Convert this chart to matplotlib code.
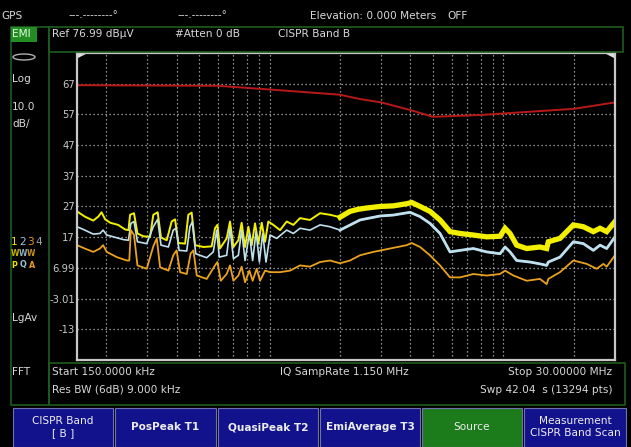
import numpy as np
import matplotlib.pyplot as plt
from matplotlib.patches import Rectangle, Polygon, Ellipse

# ---------------------------------------------------------
# Trace data (MHz, dBuV)
# ---------------------------------------------------------
peak_f = [0.150, 0.162, 0.176, 0.185, 0.191, 0.198, 0.208, 0.225, 0.241, 0.249,
          0.253, 0.263, 0.272, 0.288, 0.308, 0.318, 0.332, 0.343, 0.363, 0.381,
          0.394, 0.407, 0.435, 0.449, 0.464, 0.480, 0.521, 0.565, 0.584, 0.598,
          0.613, 0.655, 0.677, 0.700, 0.735, 0.759, 0.785, 0.811, 0.838, 0.866,
          0.895, 0.925, 0.956, 0.987, 1.037, 1.108, 1.183, 1.263, 1.349, 1.488,
          1.643, 1.812, 2.000, 2.207, 2.396, 2.601, 2.966, 3.381, 3.857, 4.051,
          4.398, 4.851, 5.355, 5.909, 6.520, 7.436, 8.478, 9.667, 10.16, 10.67,
          11.39, 12.57, 14.33, 15.31, 15.56, 17.45, 19.91, 21.97, 24.24, 25.89,
          27.64, 30.0]
peak_db = [25.4, 23.7, 22.4, 23.7, 25.1, 22.8, 21.7, 21.0, 19.5, 19.3,
           24.3, 24.8, 18.2, 17.3, 17.1, 24.3, 25.1, 16.9, 16.0, 22.1,
           22.8, 15.1, 14.9, 24.3, 25.0, 14.4, 13.8, 14.0, 19.9, 21.0,
           13.3, 16.6, 22.1, 13.8, 16.0, 21.7, 13.8, 20.4, 14.4, 21.5,
           14.9, 21.7, 15.5, 22.1, 21.0, 19.3, 22.1, 21.0, 23.2, 22.6,
           24.8, 24.3, 23.5, 25.4, 26.1, 26.5, 27.0, 27.2, 27.9, 28.3,
           27.0, 25.4, 22.6, 18.8, 18.2, 17.7, 17.1, 17.3, 19.9, 18.2,
           14.4, 13.3, 13.8, 13.3, 15.5, 16.6, 21.0, 20.4, 18.8, 19.9,
           18.8, 22.1]

qp_f = [0.150, 0.162, 0.176, 0.188, 0.194, 0.201, 0.215, 0.237, 0.249, 0.255,
        0.263, 0.272, 0.298, 0.318, 0.332, 0.343, 0.369, 0.387, 0.398, 0.410,
        0.442, 0.456, 0.467, 0.483, 0.538, 0.574, 0.594, 0.609, 0.655, 0.677,
        0.700, 0.735, 0.759, 0.785, 0.819, 0.846, 0.875, 0.904, 0.934, 0.965,
        1.004, 1.072, 1.183, 1.263, 1.349, 1.488, 1.643, 1.812, 2.000, 2.136,
        2.435, 2.966, 3.381, 3.985, 4.398, 4.851, 5.355, 5.909, 6.520, 7.436,
        8.478, 9.667, 10.16, 10.67, 11.39, 12.99, 14.33, 15.31, 15.56, 17.45,
        19.91, 21.97, 24.24, 25.89, 27.64, 30.0]
qp_db = [20.4, 19.3, 18.0, 18.2, 19.3, 17.7, 17.1, 16.2, 16.0, 21.5,
         22.1, 15.5, 14.9, 20.4, 22.8, 14.4, 13.8, 19.3, 19.9, 12.7,
         12.5, 20.4, 22.0, 11.6, 10.3, 12.2, 19.3, 10.5, 11.1, 19.9,
         10.0, 11.1, 19.3, 9.4, 18.2, 9.4, 18.8, 8.9, 18.2, 8.9,
         17.7, 16.6, 19.3, 18.2, 19.9, 19.3, 21.0, 20.4, 19.3, 20.4,
         22.6, 23.9, 24.2, 25.1, 23.7, 21.5, 18.2, 12.2, 12.7, 13.3,
         12.2, 11.6, 13.8, 12.2, 9.4, 8.9, 8.3, 7.8, 8.9, 10.5,
         15.5, 14.9, 12.7, 14.4, 13.3, 17.1]

avg_f = [0.150, 0.162, 0.176, 0.188, 0.194, 0.201, 0.222, 0.245, 0.251, 0.255,
         0.263, 0.272, 0.298, 0.318, 0.329, 0.340, 0.369, 0.387, 0.400, 0.414,
         0.442, 0.459, 0.472, 0.488, 0.538, 0.584, 0.598, 0.618, 0.655, 0.677,
         0.700, 0.735, 0.759, 0.785, 0.819, 0.846, 0.880, 0.910, 0.956, 1.004,
         1.108, 1.222, 1.349, 1.488, 1.643, 1.812, 2.000, 2.207, 2.435, 2.777,
         3.273, 3.857, 4.051, 4.398, 4.851, 5.355, 5.909, 6.520, 7.436, 8.478,
         9.667, 10.16, 11.03, 12.57, 14.33, 15.31, 15.56, 17.45, 19.91, 22.71,
         25.05, 26.75, 27.64, 30.0]
avg_db = [14.4, 13.3, 12.2, 13.3, 14.4, 12.2, 10.5, 9.4, 9.4, 19.3,
          17.7, 7.8, 6.7, 14.0, 16.6, 7.2, 6.1, 11.1, 12.7, 5.6,
          5.0, 11.6, 12.7, 4.5, 3.4, 7.8, 8.9, 2.8, 5.0, 7.8,
          2.8, 4.5, 7.4, 2.3, 6.1, 2.8, 6.7, 2.8, 6.1, 5.6,
          5.6, 6.1, 7.8, 7.4, 8.9, 9.4, 8.5, 9.4, 11.1, 12.2,
          13.3, 14.4, 15.1, 13.8, 11.1, 7.8, 3.9, 3.9, 5.0, 4.5,
          5.0, 6.1, 4.5, 2.8, 3.4, 1.7, 3.4, 5.6, 9.4, 8.3,
          6.7, 8.3, 7.4, 11.1]

limit_f = [0.15, 0.6, 1.0, 2.0, 2.43, 3.0, 4.0, 5.0, 8.0, 11.0, 20.0, 30.0]
limit_db = [66.5, 66.3, 65.1, 63.4, 62.0, 60.9, 58.4, 56.2, 56.8, 57.5, 58.8, 60.9]

ytick_vals = [66.99, 56.99, 46.99, 36.99, 26.99, 16.99, 6.99, -3.01, -13.01]
ytick_labels = ['67', '57', '47', '37', '27', '17', '6.99', '-3.01', '-13']
grid_f = [0.2, 0.3, 0.4, 0.5, 0.6, 0.7, 0.8, 0.9, 1, 2, 3, 4, 5, 6, 7, 8, 9, 10, 20]

button_labels = ['CISPR Band\n[ B ]', 'PosPeak T1', 'QuasiPeak T2',
                 'EmiAverage T3', 'Source', 'Measurement\nCISPR Band Scan']

# ---------------------------------------------------------
W, H = 631, 447
fig = plt.figure(figsize=(W / 100, H / 100), dpi=100, facecolor='black')
plt.rcParams['font.family'] = ['DejaVu Sans']

def fx(px):
    return px / W

def fy(py):
    return 1 - py / H

def box(x0, y0, x1, y1, **kw):
    fig.patches.append(Rectangle((fx(x0), fy(y1)), fx(x1 - x0), (y1 - y0) / H,
                                 transform=fig.transFigure, **kw))

def txt(x, y, s, **kw):
    kw.setdefault('color', '#d8d8d8')
    kw.setdefault('fontsize', 7.6)
    kw.setdefault('va', 'center')
    fig.text(fx(x), fy(y), s, **kw)

green = '#1d5c1d'

# panel outlines
box(11, 27, 49, 405, fill=False, edgecolor=green, lw=1.2)
box(49, 27, 623, 52, fill=False, edgecolor=green, lw=1.2)
box(49, 363, 625, 405, fill=False, edgecolor=green, lw=1.2)
box(11, 27, 37, 42, facecolor='#238c23', edgecolor='none')

# top status row
txt(1, 16, 'GPS')
txt(68, 15, '---.--------°')
txt(177, 15, '---.--------°')
txt(310, 16, 'Elevation: 0.000 Meters')
txt(447, 16, 'OFF')
txt(12, 34, 'EMI', color='#e0ffe0')
txt(52, 34, 'Ref 76.99 dBµV')
txt(175, 34, '#Atten 0 dB')
txt(278, 34, 'CISPR Band B')

# left column
fig.patches.append(Ellipse((fx(24), fy(57)), fx(22), 6 / H, transform=fig.transFigure,
                           fill=False, edgecolor='#b0b0b0', lw=1))
txt(12, 79, 'Log')
txt(12, 107, '10.0')
txt(12, 124, 'dB/')
for i, (ch, c) in enumerate(zip('1234', ['#f0e000', '#9cc8dc', '#e89a20', '#a0a0a0'])):
    txt(11 + i * 8, 242, ch, color=c, fontsize=7.6)
for i, c in enumerate(['#c8b400', '#8fb0c0', '#c8901c']):
    txt(11 + i * 8, 254, 'W', color=c, fontsize=5.5, fontweight='bold')
for i, (ch, c) in enumerate(zip('PQA', ['#f0e000', '#9cc8dc', '#e89a20'])):
    txt(11 + i * 9, 265, ch, color=c, fontsize=5.8, fontweight='bold')
txt(12, 318, 'LgAv')
txt(12, 372, 'FFT')

# bottom info
txt(52, 372, 'Start 150.0000 kHz')
txt(52, 390, 'Res BW (6dB) 9.000 kHz')
txt(280, 372, 'IQ SampRate 1.150 MHz')
txt(612, 372, 'Stop 30.00000 MHz', ha='right')
txt(612, 390, 'Swp 42.04  s (13294 pts)', ha='right')

# softkey buttons
edges = [12, 114, 217, 319, 421, 523, 627]
for i, label in enumerate(button_labels):
    face = '#1c7c1c' if label == 'Source' else '#12128c'
    box(edges[i] + 1, 408, edges[i + 1] - 1, 447, facecolor=face, edgecolor='#7070b0', lw=0.8)
    bold = 'bold' if i in (1, 2, 3) else 'normal'
    txt((edges[i] + edges[i + 1]) / 2, 427, label, ha='center', fontsize=7.6,
        fontweight=bold, color='#ececec', linespacing=1.3)

# ---------------------------------------------------------
# Spectrum plot
# ---------------------------------------------------------
ax = fig.add_axes([fx(77), fy(360), fx(615 - 77), (360 - 53) / H])
ax.set_facecolor('black')
ax.set_xscale('log')
ax.set_xlim(0.15, 30)
ax.set_ylim(-23.01, 76.99)

ax.set_xticks(grid_f, minor=False)
ax.set_xticks([], minor=True)
ax.set_xticklabels([])
ax.set_yticks(ytick_vals)
ax.set_yticklabels(ytick_labels)
ax.tick_params(axis='both', length=0, pad=1.5, labelsize=7.2, labelcolor='#c8c8c8')
ax.grid(True, color='#bdbdbd', lw=0.9, linestyle=(0, (1, 2.2)))
for s in ax.spines.values():
    s.set_color('#c8c8c8')
    s.set_linewidth(1.6)

ax.plot(limit_f, limit_db, color='#b81818', lw=1.4)

pf = np.array(peak_f)
pd = np.array(peak_db)
right = pf >= 1.9
ax.plot(pf[right], pd[right], color='#f2f000', lw=3.8, solid_joinstyle='miter')
ax.plot(peak_f, peak_db, color='#f2f000', lw=1.4)

qf = np.array(qp_f)
qd = np.array(qp_db)
ax.plot(qf[qf >= 1.9], qd[qf >= 1.9], color='#bfe0ee', lw=2.0)
ax.plot(qp_f, qp_db, color='#bfe0ee', lw=1.2)

ax.plot(avg_f, avg_db, color='#eaa21e', lw=1.3)

# corner markers on the graticule
ax.add_patch(Polygon([[0, 1], [0.02, 1], [0, 0.982]], closed=True, transform=ax.transAxes,
                     facecolor='#e0e0e0', edgecolor='none', clip_on=False))
ax.add_patch(Polygon([[1, 1], [0.98, 1], [1, 0.982]], closed=True, transform=ax.transAxes,
                     facecolor='#e0e0e0', edgecolor='none', clip_on=False))

fig.savefig('out.png', dpi=100, facecolor='black')
